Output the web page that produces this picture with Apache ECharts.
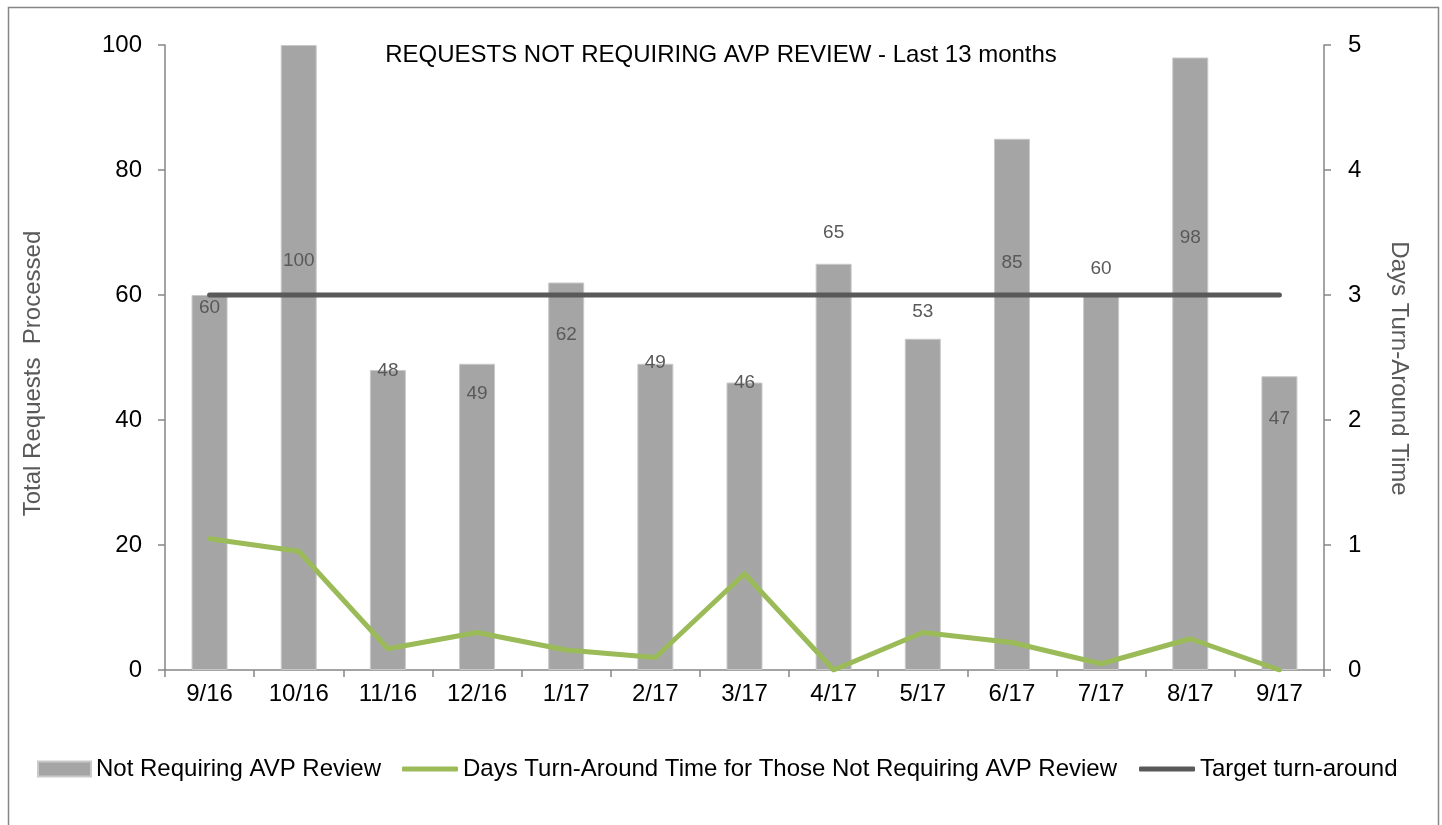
<!DOCTYPE html>
<html>
<head>
<meta charset="utf-8">
<script src="https://cdn.jsdelivr.net/npm/echarts@6/dist/echarts.min.js"></script>
<style>
html,body{margin:0;padding:0;background:#fff;}
#chart{width:1442px;height:825px;}
</style>
</head>
<body>
<div id="chart"></div>
<script>
// ---- data ----
const categories = ['9/16','10/16','11/16','12/16','1/17','2/17','3/17','4/17','5/17','6/17','7/17','8/17','9/17'];
const notRequiringAVP = [60,100,48,49,62,49,46,65,53,85,60,98,47];
const daysTurnAround = [1.05,0.95,0.17,0.30,0.16,0.10,0.77,0.0,0.30,0.22,0.05,0.25,0.0];
const targetTurnAround = [3,3,3,3,3,3,3,3,3,3,3,3,3];
const leftTicks = [0,20,40,60,80,100];
const rightTicks = [0,1,2,3,4,5];

// ---- styling (label vertical shifts as placed in the original) ----
const barLabelShift = [13,216,1,30,52,-1,0,-31,-27,124,-26,180,43];

const FONT = 'Liberation Sans';
const FS = 24;
const chart = echarts.init(document.getElementById('chart'));
const option = {
  backgroundColor:'#fff',
  animation:false,
  textStyle:{fontFamily:FONT},
  title:{
    text:'REQUESTS NOT REQUIRING AVP REVIEW - Last 13 months',
    left:'center', top:38,
    textStyle:{fontFamily:FONT,fontSize:FS,fontWeight:'normal',color:'#000'}
  },
  graphic:[{type:'rect',shape:{x:8.5,y:7.5,width:1430,height:830},style:{fill:null,stroke:'#868686',lineWidth:1.5},silent:true}],
  legend:[
    {data:['Not Requiring AVP Review'],left:37,top:757,padding:0,itemWidth:53,itemHeight:15,icon:'rect',
     textStyle:{fontFamily:FONT,fontSize:FS,color:'#000'}},
    {data:['Days Turn-Around Time for Those Not Requiring AVP Review','Target turn-around'],left:402,top:757,padding:0,itemWidth:56,itemHeight:5,icon:'roundRect',itemGap:22,
     textStyle:{fontFamily:FONT,fontSize:FS,color:'#000'}}
  ],
  grid:{left:165,right:118,top:45,bottom:155,containLabel:false},
  xAxis:{
    type:'category',data:categories,boundaryGap:true,
    axisLine:{lineStyle:{color:'#868686',width:1.5}},
    axisTick:{show:true,length:7,alignWithLabel:false,lineStyle:{color:'#868686',width:1.5}},
    axisLabel:{fontFamily:FONT,fontSize:FS,color:'#000',margin:12}
  },
  yAxis:[
    {type:'value',min:0,max:100,interval:20,position:'left',
     name:'Total Requests  Processed',nameLocation:'middle',nameGap:120,nameRotate:90,
     nameTextStyle:{fontFamily:FONT,fontSize:FS,color:'#595959',padding:[0,32,0,0]},
     axisLine:{show:true,lineStyle:{color:'#868686',width:1.5}},
     axisTick:{show:true,length:7,lineStyle:{color:'#868686',width:1.5}},
     axisLabel:{fontFamily:FONT,fontSize:FS,color:'#000',margin:23,formatter:v=>leftTicks.includes(v)?String(v):''},
     splitLine:{show:false}},
    {type:'value',min:0,max:5,interval:1,position:'right',
     name:'Days Turn-Around Time',nameLocation:'middle',nameGap:63,nameRotate:-90,
     nameTextStyle:{fontFamily:FONT,fontSize:FS,color:'#595959',padding:[0,0,0,22]},
     axisLine:{show:true,lineStyle:{color:'#868686',width:1.5}},
     axisTick:{show:true,length:7,lineStyle:{color:'#868686',width:1.5}},
     axisLabel:{fontFamily:FONT,fontSize:FS,color:'#000',margin:24,formatter:v=>rightTicks.includes(v)?String(v):''},
     splitLine:{show:false}}
  ],
  series:[
    {name:'Not Requiring AVP Review',type:'bar',yAxisIndex:0,barWidth:36,
     itemStyle:{color:'#A5A5A5',borderColor:'#C9C9C9',borderWidth:1},
     data:notRequiringAVP.map((v,i)=>({value:v,label:{offset:[0,barLabelShift[i]]}})),
     label:{show:true,position:'top',distance:0,verticalAlign:'middle',fontFamily:FONT,fontSize:19,color:'#595959'},
     z:1},
    {name:'Target turn-around',type:'line',yAxisIndex:1,data:targetTurnAround,
     showSymbol:false,symbol:'none',lineStyle:{color:'#595959',width:5,cap:'round'},itemStyle:{color:'#595959'},z:3},
    {name:'Days Turn-Around Time for Those Not Requiring AVP Review',type:'line',yAxisIndex:1,data:daysTurnAround,
     showSymbol:false,symbol:'none',lineStyle:{color:'#9BBB59',width:5,cap:'round',join:'round'},itemStyle:{color:'#9BBB59'},z:4}
  ]
};
chart.setOption(option);
</script>
</body>
</html>
